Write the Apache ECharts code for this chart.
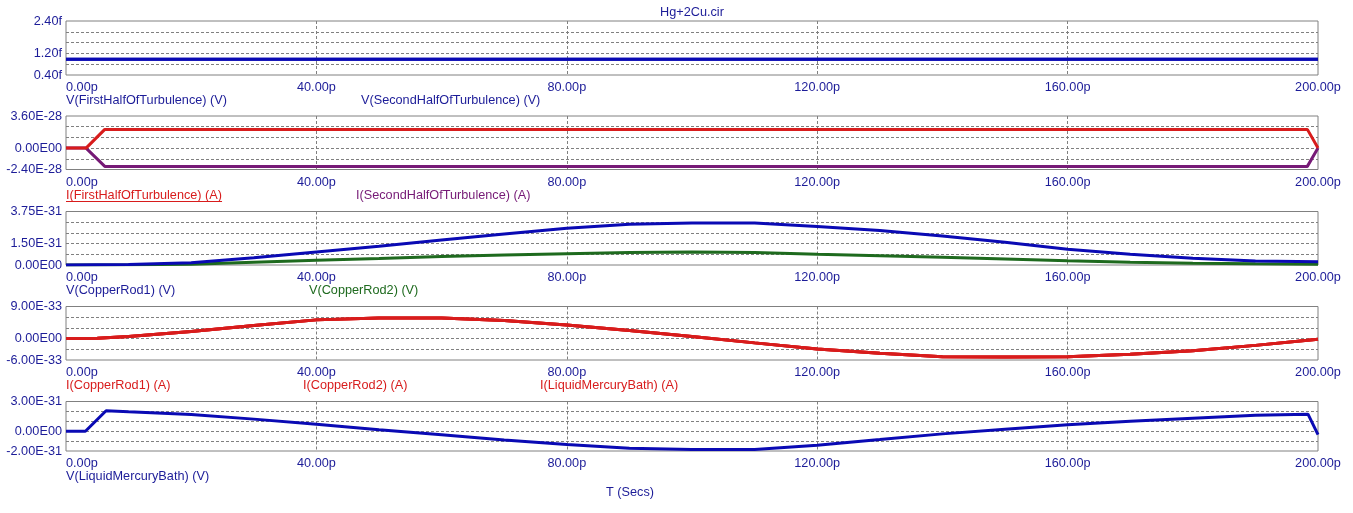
<!DOCTYPE html>
<html>
<head>
<meta charset="utf-8">
<title>Hg+2Cu.cir</title>
<script src="https://cdn.jsdelivr.net/npm/echarts@6/dist/echarts.min.js"></script>
<style>
  html, body { margin: 0; padding: 0; background: #fff; }
  #chart { width: 1353px; height: 513px; }
</style>
</head>
<body>
<div id="chart"></div>
<script>
// time in ps, values in the unit shown on each panel's axis
const xTicks = [0, 40, 80, 120, 160, 200];

// panel 1 (f = 1e-15 V)
const tFlat = [0, 200];
const vFirstHalf = [0.98, 0.98];
const vSecondHalf = [0.98, 0.98];

// panel 2 (E-28 A)
const tTurb = [0, 3.2, 6.2, 198.3, 200];
const iFirstHalf = [0, 0, 2.1, 2.1, 0];
const iSecondHalf = [0, 0, -2.05, -2.05, 0];

// panel 3 (E-31 V)
const tRod = [0, 10, 20, 30, 40, 50, 60, 70, 80, 90, 100, 110, 120, 130, 140, 150, 160, 170, 180, 190, 200];
const vRod1 = [0, 0.03, 0.15, 0.5, 0.91, 1.32, 1.75, 2.17, 2.58, 2.85, 2.94, 2.94, 2.7, 2.41, 2.04, 1.59, 1.1, 0.75, 0.47, 0.28, 0.23];
const vRod2 = [0, 0.01, 0.05, 0.19, 0.33, 0.45, 0.59, 0.7, 0.79, 0.87, 0.91, 0.87, 0.75, 0.65, 0.54, 0.42, 0.3, 0.2, 0.13, 0.08, 0.05];

// panel 4 (E-33 A) - the three currents lie on top of each other
const tLoop = [0, 5, 10, 20, 30, 40, 50, 60, 70, 80, 90, 100, 110, 120, 130, 140, 150, 160, 170, 180, 190, 200];
const iLoop = [0, 0.1, 0.56, 2.0, 3.7, 5.25, 5.8, 5.8, 5.06, 3.84, 2.25, 0.56, -1.2, -2.9, -4.1, -5.06, -5.16, -5.06, -4.4, -3.4, -1.9, -0.2];

// panel 5 (E-31 V)
const tBath = [0, 3.1, 6.4, 10, 20, 30, 40, 50, 60, 70, 80, 90, 100, 110, 120, 130, 140, 150, 160, 170, 180, 190, 198.4, 200];
const vBath = [0, 0, 2.06, 1.96, 1.69, 1.22, 0.71, 0.14, -0.37, -0.88, -1.35, -1.73, -1.86, -1.84, -1.42, -0.85, -0.27, 0.2, 0.64, 1.0, 1.31, 1.6, 1.72, -0.35];

const NAVY = '#1c1c98', BLUE = '#0a0ab4', RED = '#d81c1c', PURPLE = '#761a76', GREEN = '#1e6a1e';
const FONT = 'Liberation Sans, Arial, sans-serif';
const FSIZE = 12.7;
const GRID_GRAY = '#808080';

function zip(t, v) {
  return t.map(function (x, i) { return [x, v[i]]; });
}

function yLabel(shown, suffix) {
  return function (v) {
    for (let i = 0; i < shown.length; i++) {
      if (Math.abs(v - shown[i]) < 1e-6) {
        if (shown[i] === 0 && suffix !== 'f') return '0.00E00';
        return shown[i].toFixed(2) + suffix;
      }
    }
    return '';
  };
}

const panels = [
  { top: 21, height: 54, min: 0.4, max: 2.4, step: 0.4, shown: [0.4, 1.2, 2.4], suffix: 'f' },
  { top: 116, height: 53.5, min: -2.4, max: 3.6, step: 1.2, shown: [-2.4, 0, 3.6], suffix: 'E-28' },
  { top: 211.5, height: 53.5, min: 0, max: 3.75, step: 0.75, shown: [0, 1.5, 3.75], suffix: 'E-31' },
  { top: 306.5, height: 53.5, min: -6, max: 9, step: 3, shown: [-6, 0, 9], suffix: 'E-33' },
  { top: 401.5, height: 49.5, min: -2, max: 3, step: 1, shown: [-2, 0, 3], suffix: 'E-31' }
];

const grids = [], xAxes = [], yAxes = [];
panels.forEach(function (p, i) {
  grids.push({ left: 66, right: 35, top: p.top, height: p.height, show: true, borderColor: GRID_GRAY, borderWidth: 1 });
  xAxes.push({
    type: 'value', gridIndex: i, min: xTicks[0], max: xTicks[xTicks.length - 1], interval: xTicks[1] - xTicks[0],
    axisLine: { show: false }, axisTick: { show: false },
    axisLabel: { color: NAVY, fontFamily: FONT, fontSize: FSIZE, margin: 6, alignMinLabel: 'left',
      formatter: function (v) { return v.toFixed(2) + 'p'; } },
    splitLine: { show: true, showMinLine: false, showMaxLine: false,
      lineStyle: { color: GRID_GRAY, type: [3, 2], width: 1 } }
  });
  yAxes.push({
    type: 'value', gridIndex: i, min: p.min, max: p.max, interval: p.step,
    axisLine: { show: false }, axisTick: { show: false },
    axisLabel: { color: NAVY, fontFamily: FONT, fontSize: FSIZE, margin: 4, formatter: yLabel(p.shown, p.suffix) },
    splitLine: { show: true, showMinLine: false, showMaxLine: false,
      lineStyle: { color: GRID_GRAY, type: [3, 2], width: 1 } }
  });
});

function trace(name, idx, t, v, color) {
  return {
    name: name, type: 'line', xAxisIndex: idx, yAxisIndex: idx,
    data: zip(t, v), showSymbol: false, symbol: 'none',
    lineStyle: { color: color, width: 3 }, itemStyle: { color: color }
  };
}

const series = [
  trace('V(FirstHalfOfTurbulence)', 0, tFlat, vFirstHalf, BLUE),
  trace('V(SecondHalfOfTurbulence)', 0, tFlat, vSecondHalf, BLUE),
  trace('I(SecondHalfOfTurbulence)', 1, tTurb, iSecondHalf, PURPLE),
  trace('I(FirstHalfOfTurbulence)', 1, tTurb, iFirstHalf, RED),
  trace('V(CopperRod2)', 2, tRod, vRod2, GREEN),
  trace('V(CopperRod1)', 2, tRod, vRod1, BLUE),
  trace('I(LiquidMercuryBath)', 3, tLoop, iLoop, RED),
  trace('I(CopperRod2)', 3, tLoop, iLoop, RED),
  trace('I(CopperRod1)', 3, tLoop, iLoop, RED),
  trace('V(LiquidMercuryBath)', 4, tBath, vBath, BLUE)
];

function label(text, x, y, color, align) {
  return { type: 'text', x: x, y: y, silent: true,
    style: { text: text, fill: color, font: FSIZE + 'px ' + FONT, align: align || 'left', verticalAlign: 'middle' } };
}

// width of the selected (underlined) legend entry
const measure = document.createElement('canvas').getContext('2d');
measure.font = FSIZE + 'px ' + FONT;
const selText = 'I(FirstHalfOfTurbulence) (A)';
const selWidth = measure.measureText(selText).width;

const graphics = [
  label('Hg+2Cu.cir', 692, 12, NAVY, 'center'),
  label('V(FirstHalfOfTurbulence) (V)', 66, 100, NAVY),
  label('V(SecondHalfOfTurbulence) (V)', 361, 100, NAVY),
  label(selText, 66, 195, RED),
  { type: 'line', silent: true, shape: { x1: 66, y1: 201.5, x2: 66 + selWidth, y2: 201.5 }, style: { stroke: RED, lineWidth: 1 } },
  label('I(SecondHalfOfTurbulence) (A)', 356, 195, PURPLE),
  label('V(CopperRod1) (V)', 66, 290, NAVY),
  label('V(CopperRod2) (V)', 309, 290, GREEN),
  label('I(CopperRod1) (A)', 66, 385, RED),
  label('I(CopperRod2) (A)', 303, 385, RED),
  label('I(LiquidMercuryBath) (A)', 540, 385, RED),
  label('V(LiquidMercuryBath) (V)', 66, 476, NAVY),
  label('T (Secs)', 630, 492, NAVY, 'center')
];

const chart = echarts.init(document.getElementById('chart'));
chart.setOption({
  animation: false,
  backgroundColor: '#ffffff',
  grid: grids,
  xAxis: xAxes,
  yAxis: yAxes,
  series: series,
  graphic: graphics
});
</script>
</body>
</html>
